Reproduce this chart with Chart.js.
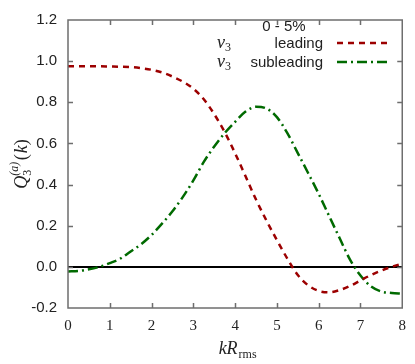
<!DOCTYPE html>
<html>
<head>
<meta charset="utf-8">
<script src="https://cdn.jsdelivr.net/npm/chart.js@4/dist/chart.umd.min.js"></script>
<style>
  body { margin: 0; background: #fff; }
  #wrap { width: 415px; height: 364px; }
</style>
</head>
<body>
<div id="wrap"><canvas id="qChart" width="415" height="364"></canvas></div>
<script>
// k R_rms sample points
var kValues = [0, 0.25, 0.5, 0.75, 1, 1.25, 1.5, 1.75, 2, 2.25, 2.5, 2.75, 3, 3.25, 3.5, 3.75,
               4, 4.25, 4.5, 4.75, 5, 5.25, 5.5, 5.75, 6, 6.25, 6.5, 6.75, 7, 7.25, 7.5, 7.75, 8];
// v3 leading
var leading = [0.975, 0.975, 0.975, 0.975, 0.974, 0.973, 0.971, 0.966, 0.958, 0.945, 0.925, 0.900,
               0.866, 0.815, 0.742, 0.655, 0.552, 0.440, 0.327, 0.225, 0.130, 0.040, -0.040, -0.090,
               -0.117, -0.124, -0.113, -0.093, -0.066, -0.040, -0.018, 0.000, 0.016];
// v3 subleading
var subleading = [-0.022, -0.020, -0.012, 0.000, 0.018, 0.040, 0.075, 0.110, 0.155, 0.210, 0.270, 0.340,
                  0.420, 0.510, 0.585, 0.650, 0.705, 0.755, 0.778, 0.770, 0.728, 0.650, 0.553, 0.455,
                  0.355, 0.247, 0.140, 0.035, -0.042, -0.095, -0.120, -0.127, -0.130];
var xTicks = [0, 1, 2, 3, 4, 5, 6, 7, 8];
var yTicks = [-0.2, 0.0, 0.2, 0.4, 0.6, 0.8, 1.0, 1.2];
var legendTitle = "0 - 5%";
var seriesNames = ["leading", "subleading"];

var redCol = "#9c0000";
var greenCol = "#006a00";
var redDash = [6, 5];
var greenDash = [10, 4, 2, 4];

function pts(ys) {
  return kValues.map(function (k, i) { return { x: k, y: ys[i] }; });
}

// draws frame, inward ticks, axis titles and the key
var decor = {
  id: 'decor',
  afterDraw: function (chart) {
    var ctx = chart.ctx, a = chart.chartArea, sx = chart.scales.x, sy = chart.scales.y;
    ctx.save();
    ctx.strokeStyle = '#6e6e6e';
    ctx.lineWidth = 1.5;
    ctx.strokeRect(a.left, a.top, a.right - a.left, a.bottom - a.top);
    ctx.beginPath();
    xTicks.slice(1, -1).forEach(function (v) {
      var px = Math.round(sx.getPixelForValue(v)) + 0.5;
      ctx.moveTo(px, a.bottom); ctx.lineTo(px, a.bottom - 5);
      ctx.moveTo(px, a.top); ctx.lineTo(px, a.top + 5);
    });
    yTicks.slice(1, -1).forEach(function (v) {
      var py = Math.round(sy.getPixelForValue(v)) + 0.5;
      ctx.moveTo(a.left, py); ctx.lineTo(a.left + 5, py);
      ctx.moveTo(a.right, py); ctx.lineTo(a.right - 5, py);
    });
    ctx.stroke();

    ctx.fillStyle = '#222';
    ctx.textBaseline = 'alphabetic';
    // x title: k R_rms
    var cx = (a.left + a.right) / 2;
    ctx.font = 'italic 18px "Liberation Serif"';
    var w1 = ctx.measureText('kR').width;
    ctx.font = '12px "Liberation Serif"';
    var w2 = ctx.measureText('rms').width;
    var x0 = cx - (w1 + w2) / 2 + 2;
    ctx.font = 'italic 18px "Liberation Serif"';
    ctx.fillText('kR', x0, 354);
    ctx.font = '12px "Liberation Serif"';
    ctx.fillText('rms', x0 + w1 + 1, 358);

    // y title: Q_3^(a)(k)
    ctx.save();
    ctx.translate(27, (a.top + a.bottom) / 2);
    ctx.rotate(-Math.PI / 2);
    ctx.font = 'italic 18px "Liberation Serif"';
    var wq = ctx.measureText('Q').width;
    ctx.font = '12px "Liberation Serif"';
    var wa = ctx.measureText('(a)').width;
    ctx.font = '18px "Liberation Serif"';
    var wk = ctx.measureText('(k)').width;
    var tx = -(wq + wa + wk + 2) / 2;
    ctx.font = 'italic 18px "Liberation Serif"';
    ctx.fillText('Q', tx, 0);
    ctx.font = '12px "Liberation Serif"';
    ctx.fillText('3', tx + wq, 4);
    ctx.font = 'italic 12px "Liberation Serif"';
    ctx.fillText('(a)', tx + wq, -9);
    ctx.font = '18px "Liberation Serif"';
    ctx.fillText('(', tx + wq + wa + 2, 0);
    ctx.font = 'italic 18px "Liberation Serif"';
    ctx.fillText('k', tx + wq + wa + 2 + ctx.measureText('(').width + 1, 0);
    ctx.font = '18px "Liberation Serif"';
    ctx.fillText(')', tx + wq + wa + wk - 4, 0);
    ctx.restore();

    // key
    ctx.font = '15px "Liberation Sans"';
    ctx.textAlign = 'center';
    ctx.fillText(legendTitle, 284, 31);
    ctx.textAlign = 'right';
    ctx.fillText(seriesNames[0], 323, 48);
    ctx.fillText(seriesNames[1], 323, 67);
    ctx.textAlign = 'left';
    [48, 67].forEach(function (by) {
      ctx.font = 'italic 18px "Liberation Serif"';
      ctx.fillText('v', 217, by);
      ctx.font = '12px "Liberation Serif"';
      ctx.fillText('3', 225, by + 3);
    });
    ctx.lineWidth = 2.5;
    ctx.strokeStyle = redCol;
    ctx.setLineDash(redDash);
    ctx.beginPath(); ctx.moveTo(337, 43); ctx.lineTo(389, 43); ctx.stroke();
    ctx.strokeStyle = greenCol;
    ctx.setLineDash(greenDash);
    ctx.beginPath(); ctx.moveTo(337, 62); ctx.lineTo(387, 62); ctx.stroke();
    ctx.restore();
  }
};

new Chart(document.getElementById('qChart').getContext('2d'), {
  type: 'line',
  data: {
    datasets: [
      { label: 'v3 leading', data: pts(leading), borderColor: redCol, borderWidth: 2.5,
        borderDash: redDash, pointRadius: 0, fill: false, cubicInterpolationMode: 'monotone' },
      { label: 'v3 subleading', data: pts(subleading), borderColor: greenCol, borderWidth: 2.5,
        borderDash: greenDash, pointRadius: 0, fill: false, cubicInterpolationMode: 'monotone' }
    ]
  },
  options: {
    responsive: false,
    animation: false,
    layout: { padding: { top: 10, right: 6, left: 0, bottom: 0 } },
    plugins: { legend: { display: false }, tooltip: { enabled: false } },
    scales: {
      x: {
        type: 'linear', min: 0, max: 8,
        afterBuildTicks: function (s) { s.ticks = xTicks.map(function (v) { return { value: v }; }); },
        afterFit: function (s) { s.height = 56; },
        grid: { display: false, drawTicks: false },
        border: { display: false },
        ticks: { padding: 9, color: '#222', font: { family: 'Liberation Serif', size: 15 } }
      },
      y: {
        type: 'linear', min: -0.2, max: 1.2,
        afterBuildTicks: function (s) { s.ticks = yTicks.map(function (v) { return { value: v }; }); },
        afterFit: function (s) { s.width = 68; },
        grid: {
          drawTicks: false,
          lineWidth: 2,
          color: function (c) { return (c.tick && Math.abs(c.tick.value) < 1e-9) ? '#000' : 'rgba(0,0,0,0)'; }
        },
        border: { display: false },
        ticks: {
          padding: 11, color: '#222',
          font: { family: 'Liberation Sans', size: 15 },
          callback: function (v) { return v.toFixed(1); }
        }
      }
    }
  },
  plugins: [decor]
});
</script>
</body>
</html>
